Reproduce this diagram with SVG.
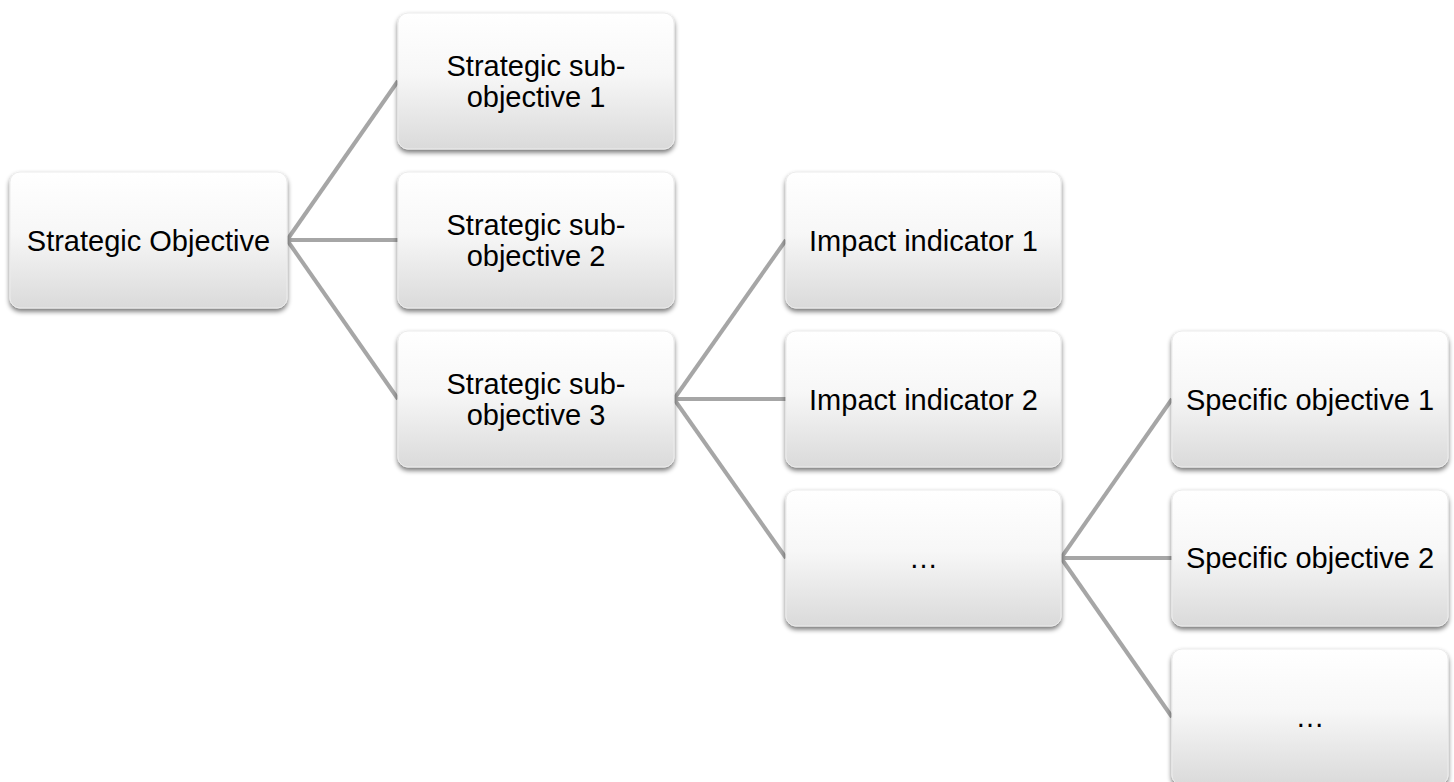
<svg xmlns="http://www.w3.org/2000/svg" width="1454" height="782" viewBox="0 0 1454 782">
<style>
.box{fill:url(#g);stroke:#ececec;stroke-width:1;filter:url(#sh)}
.t{font-family:"Liberation Sans",Arial,sans-serif;font-size:29px;fill:#000;text-anchor:middle}
.c{stroke:#a6a6a6;stroke-width:4;fill:none;stroke-linecap:butt}
</style>
<defs>
<linearGradient id="g" x1="0" y1="0" x2="0" y2="1">
<stop offset="0" stop-color="#ffffff"/>
<stop offset="0.45" stop-color="#f7f7f7"/>
<stop offset="1" stop-color="#dadada"/>
</linearGradient>
<filter id="sh" x="-10%" y="-10%" width="120%" height="130%">
<feGaussianBlur in="SourceAlpha" stdDeviation="2.5"/>
<feOffset dy="3" result="b"/>
<feComponentTransfer in="b" result="s"><feFuncA type="linear" slope="0.55"/></feComponentTransfer>
<feMerge><feMergeNode in="s"/><feMergeNode in="SourceGraphic"/></feMerge>
</filter>
</defs>
<rect width="1454" height="782" fill="#fff"/>
<g id="connectors">
<line class="c" x1="287" y1="240" x2="398" y2="81"/>
<line class="c" x1="287" y1="240" x2="398" y2="240"/>
<line class="c" x1="287" y1="240" x2="398" y2="399"/>
<line class="c" x1="674" y1="399" x2="786" y2="240"/>
<line class="c" x1="674" y1="399" x2="786" y2="399"/>
<line class="c" x1="674" y1="399" x2="786" y2="558"/>
<line class="c" x1="1061" y1="558" x2="1172" y2="399"/>
<line class="c" x1="1061" y1="558" x2="1172" y2="558"/>
<line class="c" x1="1061" y1="558" x2="1172" y2="717"/>
</g>
<g id="n0"><rect class="box" x="10" y="172" width="277" height="136" rx="10"/><text class="t" x="148.5" y="250.5">Strategic Objective</text></g>
<g id="n1"><rect class="box" x="398" y="13" width="276" height="136" rx="10"/><text class="t" x="536" y="76">Strategic sub-</text><text class="t" x="536" y="106.5">objective 1</text></g>
<g id="n2"><rect class="box" x="398" y="172" width="276" height="136" rx="10"/><text class="t" x="536" y="235">Strategic sub-</text><text class="t" x="536" y="265.5">objective 2</text></g>
<g id="n3"><rect class="box" x="398" y="331" width="276" height="136" rx="10"/><text class="t" x="536" y="394">Strategic sub-</text><text class="t" x="536" y="424.5">objective 3</text></g>
<g id="n4"><rect class="box" x="786" y="172" width="275" height="136" rx="10"/><text class="t" x="923.5" y="250.5">Impact indicator 1</text></g>
<g id="n5"><rect class="box" x="786" y="331" width="275" height="136" rx="10"/><text class="t" x="923.5" y="409.5">Impact indicator 2</text></g>
<g id="n6"><rect class="box" x="786" y="490" width="275" height="136" rx="10"/><text class="t" x="923.5" y="568">…</text></g>
<g id="n7"><rect class="box" x="1172" y="331" width="276" height="136" rx="10"/><text class="t" x="1310" y="409.5">Specific objective 1</text></g>
<g id="n8"><rect class="box" x="1172" y="490" width="276" height="136" rx="10"/><text class="t" x="1310" y="568">Specific objective 2</text></g>
<g id="n9"><rect class="box" x="1172" y="649" width="276" height="136" rx="10"/><text class="t" x="1310" y="727">…</text></g>
</svg>
